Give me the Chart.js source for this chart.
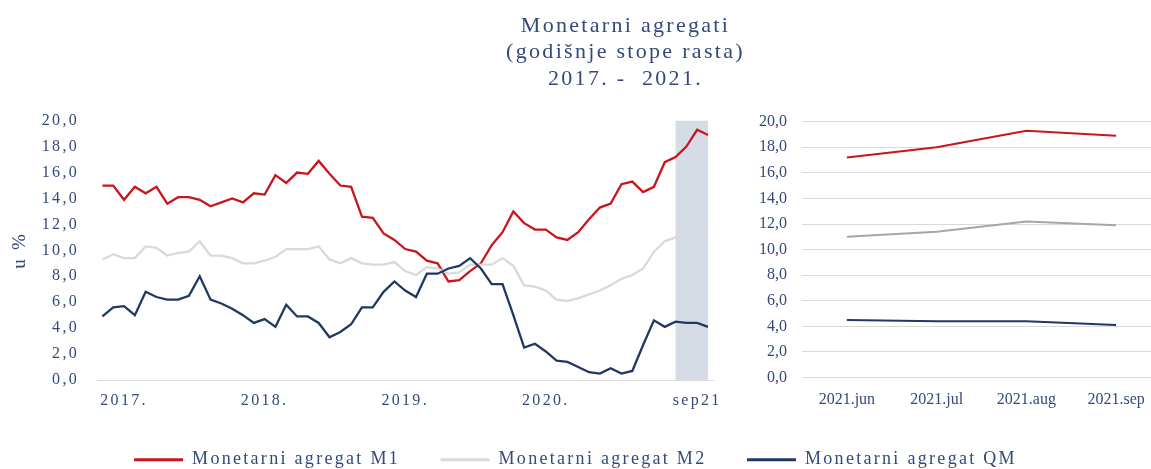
<!DOCTYPE html>
<html>
<head>
<meta charset="utf-8">
<script src="https://cdn.jsdelivr.net/npm/chart.js@4.4.1/dist/chart.umd.min.js"></script>
<style>
  html, body { margin: 0; padding: 0; background: #ffffff; overflow: hidden; }
  #wrap { position: relative; width: 1151px; height: 469px; }
  #left { position: absolute; left: 0; top: 0; }
  #right { position: absolute; left: 730px; top: 0; }
</style>
</head>
<body>
<div id="wrap">
  <canvas id="left" width="1151" height="469"></canvas>
  <canvas id="right" width="431" height="469"></canvas>
</div>
<script>
// ---------- data ----------
const categories = [
  'jan17','feb17','mar17','apr17','maj17','jun17','jul17','aug17','sep17','okt17','nov17','dec17',
  'jan18','feb18','mar18','apr18','maj18','jun18','jul18','aug18','sep18','okt18','nov18','dec18',
  'jan19','feb19','mar19','apr19','maj19','jun19','jul19','aug19','sep19','okt19','nov19','dec19',
  'jan20','feb20','mar20','apr20','maj20','jun20','jul20','aug20','sep20','okt20','nov20','dec20',
  'jan21','feb21','mar21','apr21','maj21','jun21','jul21','aug21','sep21'
];
const m1 = [15.0,15.0,13.9,14.9,14.4,14.9,13.6,14.1,14.1,13.9,13.4,13.7,
            14.0,13.7,14.4,14.3,15.8,15.2,16.0,15.9,16.9,15.9,15.0,14.9,
            12.6,12.5,11.3,10.8,10.1,9.9,9.2,9.0,7.6,7.7,8.4,9.0,
            10.4,11.4,13.0,12.1,11.6,11.6,11.0,10.8,11.4,12.4,13.3,13.6,
            15.1,15.3,14.5,14.9,16.8,17.2,18.0,19.3,18.9];
const m2 = [9.3,9.7,9.4,9.4,10.3,10.2,9.6,9.8,9.9,10.7,9.6,9.6,
            9.4,9.0,9.0,9.2,9.5,10.1,10.1,10.1,10.3,9.3,9.0,9.4,
            9.0,8.9,8.9,9.1,8.4,8.1,8.7,8.6,8.2,8.3,8.9,8.9,
            8.9,9.4,8.8,7.3,7.2,6.9,6.2,6.1,6.3,6.6,6.9,7.3,
            7.8,8.1,8.6,9.9,10.7,11.0,11.4,12.2,11.9];
const qm = [4.9,5.6,5.7,5.0,6.8,6.4,6.2,6.2,6.5,8.0,6.2,5.9,
            5.5,5.0,4.4,4.7,4.1,5.8,4.9,4.9,4.4,3.3,3.7,4.3,
            5.6,5.6,6.8,7.6,6.9,6.4,8.2,8.2,8.6,8.8,9.4,8.6,
            7.4,7.4,5.0,2.5,2.8,2.2,1.5,1.4,1.0,0.6,0.5,0.9,
            0.5,0.7,2.7,4.6,4.1,4.5,4.4,4.4,4.1];
const xTickPositions = [2, 15, 28, 41, 55];
const xTickLabels = ['2017.', '2018.', '2019.', '2020.', 'sep21'];
const shadeFrom = 'jun21';
const shadeTo = 'sep21';

const rightCategories = ['2021.jun', '2021.jul', '2021.aug', '2021.sep'];
const rightM1 = [17.2, 18.0, 19.3, 18.9];
const rightM2 = [11.0, 11.4, 12.2, 11.9];
const rightQM = [4.5, 4.4, 4.4, 4.1];

const seriesNames = ['Monetarni agregat M1', 'Monetarni agregat M2', 'Monetarni agregat QM'];
const titleLines = ['Monetarni agregati', '(godišnje stope rasta)', '2017. -  2021.'];
const yTitle = 'u %';

// ---------- styles ----------
const TXT = '#34497A';
const RED = '#C9161C';
const GRAY_L = '#D9D9D9';
const GRAY_R = '#A6A6A6';
const NAVY = '#1F3864';
const FONT = 'Liberation Serif';
const fmt = v => Number(v).toFixed(1).replace('.', ',');

const spacing = {
  id: 'spacing',
  beforeUpdate(c) { c.ctx.letterSpacing = '2.3px'; },
  beforeDraw(c) { c.ctx.letterSpacing = '2.3px'; }
};
const titleShift = {
  id: 'titleShift',
  afterLayout(c) {
    if (c.titleBlock) { c.titleBlock.left = 100; c.titleBlock.right = c.width; }
  }
};
const shade = {
  id: 'shade',
  beforeDatasetsDraw(c) {
    const x = c.scales.x, y = c.scales.y, ctx = c.ctx;
    const x1 = x.getPixelForValue(categories.indexOf(shadeFrom));
    const x2 = x.getPixelForValue(categories.indexOf(shadeTo));
    const y1 = y.getPixelForValue(20), y2 = y.getPixelForValue(0);
    ctx.save();
    ctx.fillStyle = '#D6DCE5';
    ctx.fillRect(x1, y1, x2 - x1, y2 - y1);
    ctx.restore();
  }
};

new Chart(document.getElementById('left'), {
  type: 'line',
  data: {
    labels: categories,
    datasets: [
      { label: seriesNames[0], data: m1, borderColor: RED, backgroundColor: RED, borderWidth: 2.3, pointRadius: 0, order: 3 },
      { label: seriesNames[1], data: m2, borderColor: GRAY_L, backgroundColor: GRAY_L, borderWidth: 2.3, pointRadius: 0, order: 2 },
      { label: seriesNames[2], data: qm, borderColor: NAVY, backgroundColor: NAVY, borderWidth: 2.3, pointRadius: 0, order: 1 }
    ]
  },
  options: {
    responsive: false,
    animation: false,
    devicePixelRatio: 1,
    layout: { padding: { left: 0, right: 0, top: 0, bottom: -9.7 } },
    plugins: {
      tooltip: { enabled: false },
      title: {
        display: true,
        text: titleLines,
        color: TXT,
        font: { family: FONT, size: 22, weight: 'normal', lineHeight: '26.7px' },
        padding: { top: 12.5, bottom: 28.1 }
      },
      legend: {
        position: 'bottom',
        labels: {
          boxWidth: 49,
          boxHeight: 3,
          padding: 40.5,
          color: TXT,
          font: { family: FONT, size: 18 },
          generateLabels(chart) {
            return chart.data.datasets.map((ds, i) => ({
              text: ds.label, fillStyle: ds.borderColor, strokeStyle: ds.borderColor,
              lineWidth: 0, hidden: false, datasetIndex: i, fontColor: TXT
            }));
          }
        }
      }
    },
    scales: {
      x: {
        offset: true,
        grid: { display: false, drawTicks: false },
        border: { display: true, color: '#D9D9D9', width: 1 },
        ticks: {
          autoSkip: false, maxRotation: 0, padding: 11, color: TXT,
          font: { family: FONT, size: 16 },
          callback: (v, i) => { const k = xTickPositions.indexOf(i); return k >= 0 ? xTickLabels[k] : ''; }
        },
        afterFit(s) { s.height = 30.2; }
      },
      y: {
        min: 0, max: 20,
        grid: { display: false, drawTicks: false },
        border: { display: false },
        ticks: { stepSize: 2, padding: 18, color: TXT, font: { family: FONT, size: 16 }, callback: v => fmt(v) },
        title: { display: true, text: yTitle, color: TXT, font: { family: FONT, size: 19 }, padding: { top: 9, bottom: 0 } },
        afterFit(s) { s.width = 97; }
      },
      pad: {
        type: 'linear', position: 'right', display: true,
        grid: { display: false, drawTicks: false },
        border: { display: false },
        ticks: { display: false },
        afterFit(s) { s.width = 437.6; }
      }
    }
  },
  plugins: [spacing, titleShift, shade]
});

new Chart(document.getElementById('right'), {
  type: 'line',
  data: {
    labels: rightCategories,
    datasets: [
      { label: seriesNames[0], data: rightM1, borderColor: RED, borderWidth: 2, pointRadius: 0, order: 3 },
      { label: seriesNames[1], data: rightM2, borderColor: GRAY_R, borderWidth: 2, pointRadius: 0, order: 2 },
      { label: seriesNames[2], data: rightQM, borderColor: NAVY, borderWidth: 2, pointRadius: 0, order: 1 }
    ]
  },
  options: {
    responsive: false,
    animation: false,
    devicePixelRatio: 1,
    layout: { padding: { left: 0, right: 0, top: 121.7, bottom: 46.3 } },
    plugins: { tooltip: { enabled: false }, legend: { display: false }, title: { display: false } },
    scales: {
      x: {
        offset: true,
        grid: { display: false, drawTicks: false },
        border: { display: false },
        ticks: { autoSkip: false, maxRotation: 0, padding: 13, color: TXT, font: { family: FONT, size: 16 } }
      },
      y: {
        min: 0, max: 20,
        grid: { color: '#D9D9D9', lineWidth: 1, drawTicks: false },
        border: { display: false },
        ticks: { stepSize: 2, padding: 15, color: TXT, font: { family: FONT, size: 16 }, callback: v => fmt(v) },
        afterFit(s) { s.width = 72; }
      }
    }
  }
});
</script>
</body>
</html>
